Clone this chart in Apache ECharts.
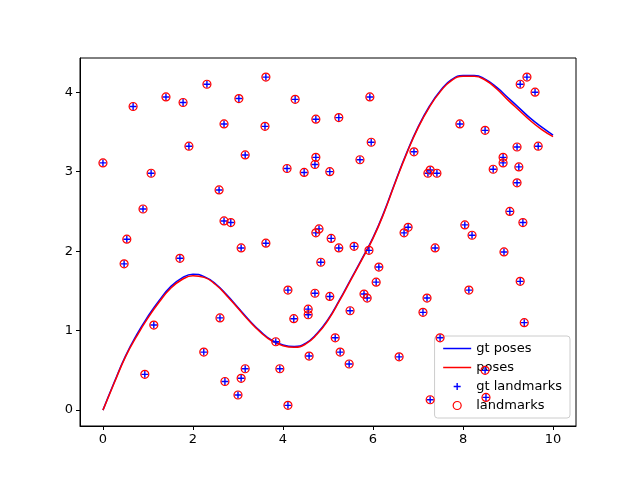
<!DOCTYPE html>
<html>
<head>
<meta charset="utf-8">
<script src="https://cdn.jsdelivr.net/npm/echarts@6/dist/echarts.min.js"></script>
<style>html,body{margin:0;padding:0;background:#fff}#chart-container{width:640px;height:480px}</style>
</head>
<body>
<div id="chart-container"></div>
<script>
// trajectory samples (x, y)
var poseX = [0, 0.25, 0.5, 0.75, 1, 1.25, 1.5, 1.75, 2, 2.25, 2.5, 2.75, 3, 3.25, 3.5, 3.75, 4, 4.25, 4.5, 4.75, 5, 5.25, 5.5, 5.75, 6, 6.25, 6.5, 6.75, 7, 7.25, 7.5, 7.75, 8, 8.25, 8.5, 8.75, 9, 9.25, 9.5, 9.75, 10];
var gtPoseY = [0, 0.35, 0.68, 0.95, 1.18, 1.38, 1.55, 1.66, 1.71, 1.68, 1.59, 1.45, 1.29, 1.13, 0.99, 0.88, 0.82, 0.8, 0.84, 0.96, 1.14, 1.38, 1.64, 1.9, 2.17, 2.5, 2.88, 3.24, 3.56, 3.82, 4.02, 4.16, 4.21, 4.21, 4.16, 4.06, 3.93, 3.8, 3.67, 3.56, 3.46];
var poseY = [0, 0.34, 0.67, 0.93, 1.16, 1.36, 1.53, 1.64, 1.69, 1.67, 1.58, 1.44, 1.28, 1.12, 0.98, 0.87, 0.81, 0.79, 0.83, 0.95, 1.13, 1.37, 1.63, 1.89, 2.16, 2.49, 2.87, 3.23, 3.55, 3.81, 4.01, 4.15, 4.2, 4.2, 4.15, 4.04, 3.9, 3.77, 3.64, 3.53, 3.44];

// landmarks
var lmX = [0, 0.47, 0.53, 0.67, 0.89, 0.93, 1.07, 1.13, 1.4, 1.71, 1.78, 1.91, 2.24, 2.31, 2.58, 2.6, 2.69, 2.69, 2.71, 2.84, 3.0, 3.02, 3.07, 3.07, 3.16, 3.16, 3.62, 3.6, 3.62, 3.84, 3.93, 4.09, 4.11, 4.11, 4.24, 4.27, 4.47, 4.56, 4.56, 4.58, 4.71, 4.73, 4.73, 4.71, 4.73, 4.8, 4.84, 5.04, 5.04, 5.07, 5.16, 5.24, 5.24, 5.27, 5.47, 5.49, 5.58, 5.71, 5.8, 5.87, 5.91, 5.93, 5.96, 6.07, 6.13, 6.58, 6.69, 6.78, 6.91, 7.11, 7.2, 7.27, 7.27, 7.22, 7.42, 7.38, 7.49, 7.93, 8.04, 8.13, 8.2, 8.49, 8.49, 8.51, 8.67, 8.89, 8.89, 8.91, 9.04, 9.2, 9.2, 9.27, 9.24, 9.27, 9.33, 9.36, 9.42, 9.6, 9.67];
var lmY = [3.11, 1.84, 2.15, 3.82, 2.53, 0.45, 2.98, 1.07, 3.94, 1.91, 3.87, 3.32, 0.73, 4.1, 2.77, 1.16, 3.6, 2.38, 0.36, 2.36, 0.19, 3.92, 2.04, 0.4, 0.52, 3.21, 4.19, 3.57, 2.1, 0.86, 0.52, 3.04, 1.51, 0.06, 1.15, 3.91, 2.99, 1.2, 1.27, 0.68, 1.47, 3.66, 3.18, 3.09, 2.23, 2.28, 1.86, 1.43, 3.0, 2.16, 0.91, 3.68, 2.04, 0.73, 0.58, 1.25, 2.06, 3.15, 1.46, 1.41, 2.01, 3.94, 3.37, 1.61, 1.8, 0.67, 2.23, 2.3, 3.25, 1.23, 1.41, 3.02, 0.13, 2.98, 2.98, 2.04, 0.91, 3.6, 2.33, 1.51, 2.2, 3.52, 0.5, 0.16, 3.03, 3.18, 3.11, 1.99, 2.5, 3.31, 2.86, 4.1, 3.06, 1.62, 2.36, 1.1, 4.19, 4.0, 3.32];
var gtLmX = lmX.slice();
var gtLmY = lmY.slice();

var xTicks = [0, 2, 4, 6, 8, 10];
var yTicks = [0, 1, 2, 3, 4];

function pairs(xs, ys) {
    var out = [];
    for (var i = 0; i < xs.length; i++) out.push([xs[i], ys[i]]);
    return out;
}

var plusPath = 'path://M4,0h2v10h-2zM0,4h10v2h-10z';
// legend icons padded to the full 28x10 item box so the marker sits centred
var plusIcon = 'path://M0,0h0.01v0.01h-0.01zM28,10h-0.01v-0.01h0.01zM13.3,1.5h1.4v7h-1.4zM10.5,4.3h7v1.4h-7z';
var ringIcon = 'path://M0,0M28,10M18,5a4,4 0 1,1 -8,0a4,4 0 1,1 8,0z';
var font = 'DejaVu Sans';

var option = {
    animation: false,
    textStyle: {fontFamily: font},
    grid: {left: 80, right: 64, top: 58, bottom: 54, show: true, borderColor: '#000', borderWidth: 1},
    xAxis: {
        type: 'value', min: -0.51, max: 10.51,
        splitLine: {show: false},
        axisLine: {show: true, onZero: false, lineStyle: {color: '#000'}},
        axisTick: {show: true, customValues: xTicks, length: 4, lineStyle: {color: '#000'}},
        axisLabel: {customValues: xTicks, color: '#000', fontSize: 13, margin: 7}
    },
    yAxis: {
        type: 'value', min: -0.2, max: 4.43,
        splitLine: {show: false},
        axisLine: {show: true, onZero: false, lineStyle: {color: '#000'}},
        axisTick: {show: true, customValues: yTicks, length: 4, lineStyle: {color: '#000'}},
        axisLabel: {customValues: yTicks, color: '#000', fontSize: 13, margin: 7}
    },
    legend: {
        orient: 'vertical', right: 70, bottom: 62,
        backgroundColor: 'rgba(255,255,255,0.8)', borderColor: '#ccc', borderWidth: 1, borderRadius: 3,
        padding: [6, 8, 6, 8], itemGap: 6, itemWidth: 28, itemHeight: 10,
        textStyle: {fontSize: 13, color: '#000'},
        data: [
            {name: 'gt poses', icon: 'path://M0,4.25h28v1.5h-28z', itemStyle: {color: '#0000ff'}},
            {name: 'poses', icon: 'path://M0,4.25h28v1.5h-28z', itemStyle: {color: '#ff0000'}},
            {name: 'gt landmarks', icon: plusIcon, itemStyle: {color: '#0000ff'}},
            {name: 'landmarks', icon: ringIcon, itemStyle: {color: 'transparent', borderColor: '#ff0000', borderWidth: 1.2}}
        ]
    },
    series: [
        {name: 'gt poses', type: 'line', smooth: true, showSymbol: false, data: pairs(poseX, gtPoseY), lineStyle: {color: '#0000ff', width: 1.5}, itemStyle: {color: '#0000ff'}, z: 2},
        {name: 'poses', type: 'line', smooth: true, showSymbol: false, data: pairs(poseX, poseY), lineStyle: {color: '#ff0000', width: 1.5}, itemStyle: {color: '#ff0000'}, z: 3},
        {name: 'gt landmarks', type: 'scatter', symbol: plusPath, symbolSize: 7, data: pairs(gtLmX, gtLmY), itemStyle: {color: '#0000ff', opacity: 1}, z: 4},
        {name: 'landmarks', type: 'scatter', symbol: 'circle', symbolSize: 8, data: pairs(lmX, lmY), itemStyle: {color: 'transparent', borderColor: '#ff0000', borderWidth: 1.2, opacity: 1}, z: 5}
    ]
};

var myChart = echarts.init(document.getElementById('chart-container'));
myChart.setOption(option);
</script>
</body>
</html>
